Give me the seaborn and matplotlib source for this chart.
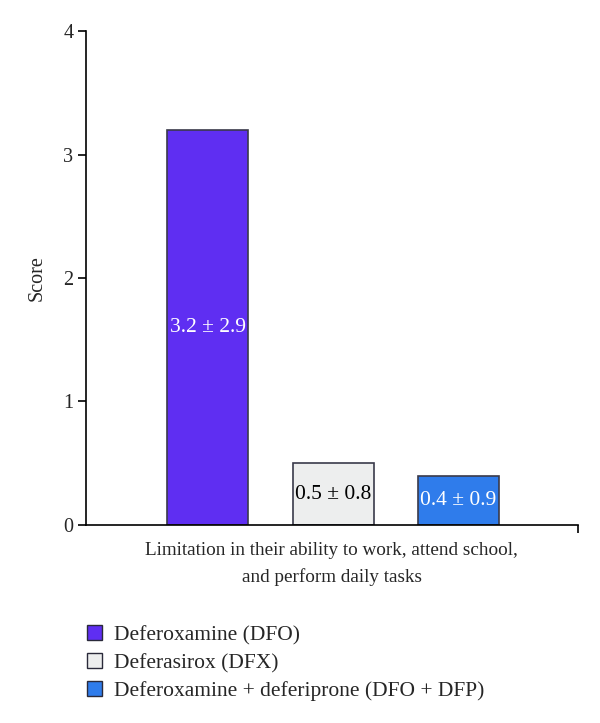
import numpy as np
import pandas as pd

import matplotlib

matplotlib.use("Agg")

import matplotlib.pyplot as plt
import seaborn as sns

# =====================================
# Chart data
# =====================================

drugs = [
    "Deferoxamine (DFO)",
    "Deferasirox (DFX)",
    "Deferoxamine + deferiprone (DFO + DFP)",
]
scores = [3.2, 0.5, 0.4]
bar_labels = ["3.2 \u00b1 2.9", "0.5 \u00b1 0.8", "0.4 \u00b1 0.9"]
bar_colors = ["#5F2EF2", "#EDEEEE", "#2F7CEB"]
label_colors = ["white", "black", "white"]
y_ticks = [0, 1, 2, 3, 4]
x_title = "Limitation in their ability to work, attend school,\nand perform daily tasks"

df = pd.DataFrame({"drug": drugs, "score": scores})

# =====================================
# Plot
# =====================================

sns.set_style("white")
plt.rcParams["font.family"] = ["Liberation Serif", "DejaVu Serif"]

fig = plt.figure(figsize=(6, 7.23), dpi=100)
ax = fig.add_axes([0.143, 0.274, 0.82, 0.683])

sns.barplot(
    data=df,
    x="drug",
    y="score",
    hue="drug",
    order=drugs,
    hue_order=drugs,
    palette=bar_colors,
    saturation=1,
    width=0.645,
    dodge=False,
    edgecolor="#3a3a4a",
    linewidth=1.2,
    legend=False,
    ax=ax,
)

for container, lab, col in zip(ax.containers, bar_labels, label_colors):
    ax.bar_label(container, labels=[lab], label_type="center", color=col, fontsize=15.5)

ax.set_ylim(0, 4)
ax.set_yticks(y_ticks)
ax.set_xlim(-0.97, 2.95)
ax.set_xticks([2.95])
ax.set_xticklabels([""])
ax.tick_params(axis="both", direction="out", length=6, width=1.2, color="black",
               labelsize=14.5, left=True, bottom=True, pad=3)

ax.set_ylabel("Score", fontsize=14.5, labelpad=12)
ax.set_xlabel(x_title, fontsize=13.8, labelpad=3, linespacing=1.7)

sns.despine(ax=ax, top=True, right=True)
for side in ["left", "bottom"]:
    ax.spines[side].set_color("black")
    ax.spines[side].set_linewidth(1.2)

handles = [
    plt.Rectangle((0, 0), 1, 1, facecolor=c, edgecolor="#2a2a3a", linewidth=1.0)
    for c in bar_colors
]
fig.legend(
    handles,
    drugs,
    loc="upper left",
    bbox_to_anchor=(0.145, 0.135),
    frameon=False,
    fontsize=15.5,
    handlelength=0.7,
    handleheight=0.65,
    handletextpad=0.55,
    labelspacing=0.38,
    borderpad=0,
    borderaxespad=0,
)

plt.savefig("out.png", dpi=100)
plt.close()
